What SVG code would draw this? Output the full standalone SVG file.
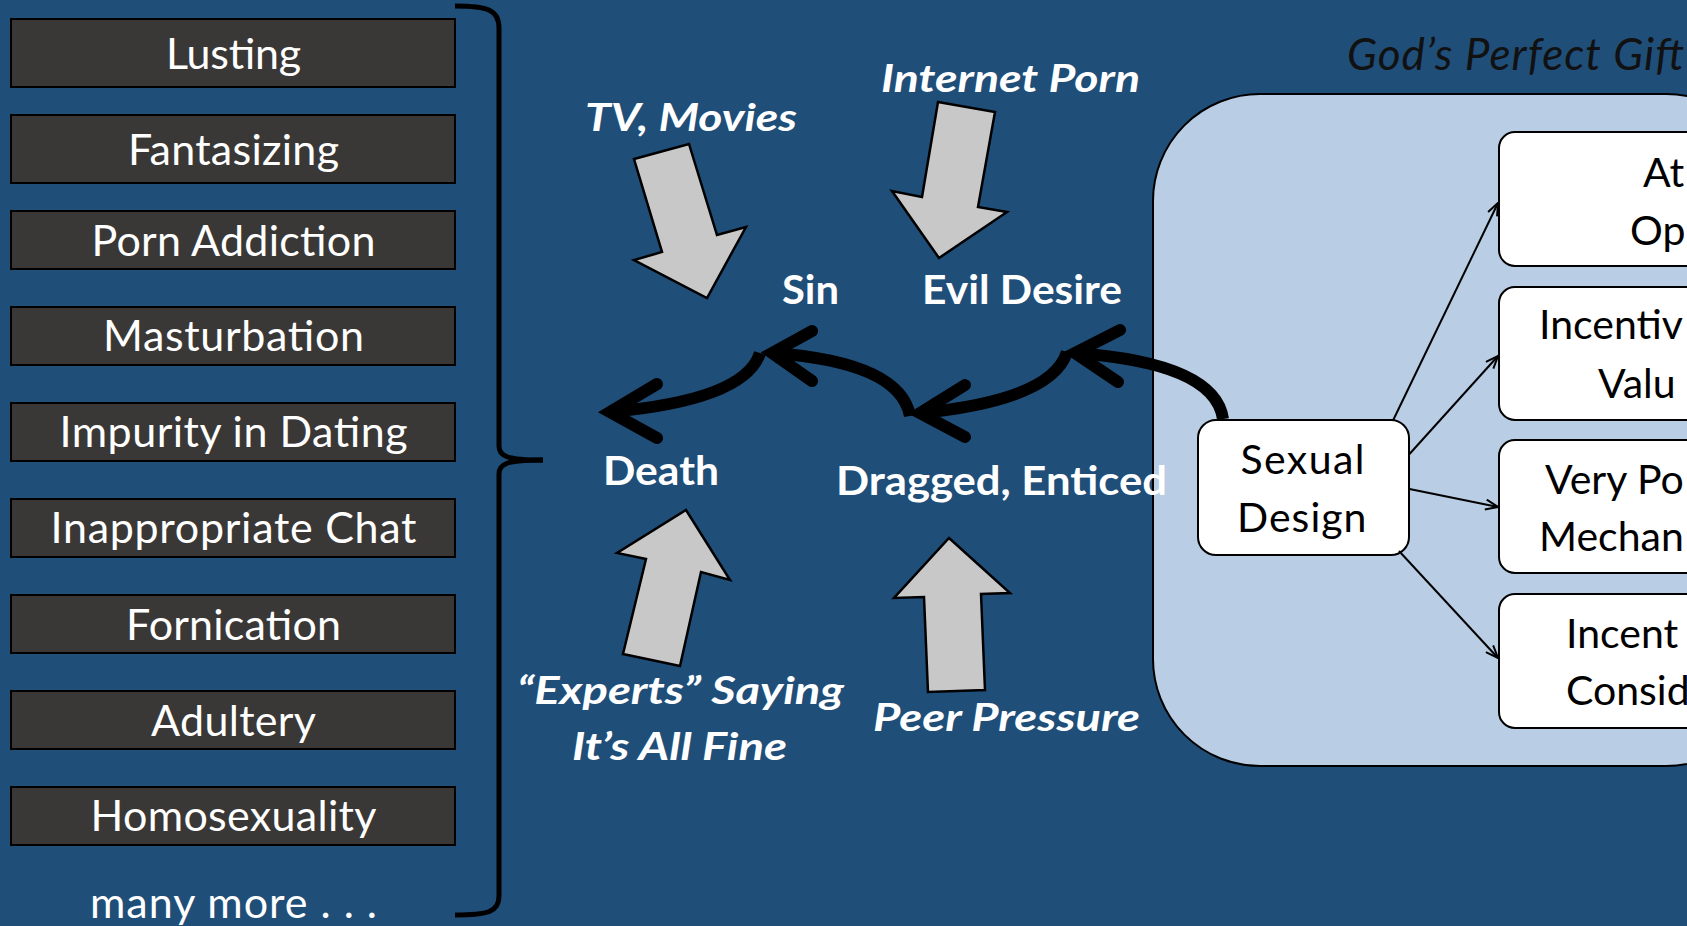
<svg xmlns="http://www.w3.org/2000/svg" width="1687" height="926" viewBox="0 0 1687 926">
<defs>
<style>
.bg{fill:#1F4E79}
.item rect{fill:#3A3836;stroke:#000;stroke-width:2}
.wt{fill:#fff;font-family:"Lato","Liberation Sans",sans-serif;font-size:43px}
.lbl{fill:#fff;font-family:"Lato","Liberation Sans",sans-serif;font-size:41px;font-weight:bold}
.inf{fill:#fff;font-family:"Lato","Liberation Sans",sans-serif;font-size:38px;font-weight:bold;font-style:italic}
.blk{fill:#000;font-family:"Lato","Liberation Sans",sans-serif;font-size:41px}
.blk-arrow{fill:#C8C8C8;stroke:#000;stroke-width:2.5;stroke-linejoin:miter}
.flow{fill:none;stroke:#000;stroke-width:12}
.head{fill:none;stroke:#000;stroke-width:12;stroke-linecap:round;stroke-linejoin:miter}
.thin{fill:none;stroke:#000;stroke-width:2;marker-end:url(#open)}
.wbox{fill:#fff;stroke:#000;stroke-width:2}
</style>
<marker id="open" viewBox="0 0 14 12" refX="13.5" refY="6" markerWidth="14" markerHeight="12" markerUnits="userSpaceOnUse" orient="auto">
<path d="M1,1 L13.5,6 L1,11" fill="none" stroke="#000" stroke-width="2"/>
</marker>
</defs>
<rect class="bg" x="0" y="0" width="1687" height="926"/>

<g id="list">
<g id="n-lusting" class="item"><rect x="11" y="19" width="444" height="68"/><text class="wt" x="233.5" y="69" text-anchor="middle" textLength="135">Lusting</text></g>
<g id="n-fantasizing" class="item"><rect x="11" y="115" width="444" height="68"/><text class="wt" x="233.5" y="165" text-anchor="middle" textLength="211">Fantasizing</text></g>
<g id="n-porn" class="item"><rect x="11" y="211" width="444" height="58"/><text class="wt" x="233.5" y="256" text-anchor="middle" textLength="284">Porn Addiction</text></g>
<g id="n-masturbation" class="item"><rect x="11" y="307" width="444" height="58"/><text class="wt" x="233.5" y="351" text-anchor="middle" textLength="261">Masturbation</text></g>
<g id="n-impurity" class="item"><rect x="11" y="403" width="444" height="58"/><text class="wt" x="233.5" y="447" text-anchor="middle" textLength="348">Impurity in Dating</text></g>
<g id="n-chat" class="item"><rect x="11" y="499" width="444" height="58"/><text class="wt" x="233.5" y="543" text-anchor="middle" textLength="366">Inappropriate Chat</text></g>
<g id="n-fornication" class="item"><rect x="11" y="595" width="444" height="58"/><text class="wt" x="233.5" y="640" text-anchor="middle" textLength="215">Fornication</text></g>
<g id="n-adultery" class="item"><rect x="11" y="691" width="444" height="58"/><text class="wt" x="233.5" y="736" text-anchor="middle" textLength="165">Adultery</text></g>
<g id="n-homosexuality" class="item"><rect x="11" y="787" width="444" height="58"/><text class="wt" x="233.5" y="831" text-anchor="middle" textLength="286">Homosexuality</text></g>
<g id="n-more"><text class="wt" x="233.5" y="918" text-anchor="middle" textLength="287">many more . . .</text></g>
</g>

<g id="brace" fill="none" stroke="#000" stroke-width="5">
<path d="M455,6 C488,6 499,10 499,28 L499,446 C499,456 506,460 543,460"/>
<path d="M543,460 C506,460 499,464 499,474 L499,896 C499,912 488,915 455,915"/>
</g>

<g id="influences">
<g id="n-tv"><polygon class="blk-arrow" points="634,159 689,144 717,235 746,227 707,298 634,260 662,252"/><text class="inf" x="585" y="131" textLength="212" lengthAdjust="spacingAndGlyphs">TV, Movies</text></g>
<g id="n-internet"><polygon class="blk-arrow" points="938,102 995,112 978,207 1007,212 939,258 892,191 922,197"/><text class="inf" x="881" y="92" textLength="259" lengthAdjust="spacingAndGlyphs">Internet Porn</text></g>
<g id="n-experts"><polygon class="blk-arrow" points="686,510 730,580 701,572 680,666 623,654 646,559 617,553"/><text class="inf" x="517" y="704" textLength="327" lengthAdjust="spacingAndGlyphs">“Experts” Saying</text><text class="inf" x="572" y="760" textLength="215" lengthAdjust="spacingAndGlyphs">It’s All Fine</text></g>
<g id="n-peer"><polygon class="blk-arrow" points="949,538 1010,593 981,594 985,690 928,692 924,597 894,598"/><text class="inf" x="873" y="731" textLength="267" lengthAdjust="spacingAndGlyphs">Peer Pressure</text></g>
</g>

<g id="n-panel">
<rect x="1153" y="94" width="620" height="672" rx="107" ry="107" fill="#B9CDE5" stroke="#000" stroke-width="2"/>
<text x="1347" y="70" fill="#111" font-family="Lato,'Liberation Sans',sans-serif" font-size="44" font-style="italic" textLength="337">God’s Perfect Gift</text>
</g>

<g id="stages">
<g id="n-sin"><text class="lbl" x="782" y="304" textLength="57" lengthAdjust="spacingAndGlyphs">Sin</text></g>
<g id="n-evil"><text class="lbl" x="922" y="304" textLength="200" lengthAdjust="spacingAndGlyphs">Evil Desire</text></g>
<g id="n-death"><text class="lbl" x="603" y="485" textLength="116" lengthAdjust="spacingAndGlyphs">Death</text></g>
</g>

<g id="n-sexual"><rect class="wbox" x="1198" y="420" width="211" height="135" rx="18" ry="18"/><text class="blk" x="1240.5" y="474" textLength="124">Sexual</text><text class="blk" x="1237" y="532" textLength="129.5">Design</text></g>

<g id="n-box1"><rect class="wbox" x="1499" y="132" width="260" height="134" rx="16" ry="16"/><text class="blk" x="1643" y="187">At</text><text class="blk" x="1630" y="245">Op</text></g>
<g id="n-box2"><rect class="wbox" x="1499" y="287" width="260" height="133" rx="16" ry="16"/><text class="blk" x="1539" y="339">Incentiv</text><text class="blk" x="1598" y="398">Valu</text></g>
<g id="n-box3"><rect class="wbox" x="1499" y="440" width="260" height="133" rx="16" ry="16"/><text class="blk" x="1545" y="494">Very Po</text><text class="blk" x="1539" y="551">Mechan</text></g>
<g id="n-box4"><rect class="wbox" x="1499" y="594" width="260" height="134" rx="16" ry="16"/><text class="blk" x="1566" y="648">Incent</text><text class="blk" x="1566" y="705">Consid</text></g>

<g id="connectors">
<path class="flow" d="M1223,419 Q1215,363 1075,353"/>
<polyline class="head" points="1120,330 1075,353 1118,382"/>
<path class="flow" d="M1067,352 Q1052,400 920,413"/>
<polyline class="head" points="965,385 920,413 965,437"/>
<path class="flow" d="M910,416 Q900,362 772,353"/>
<polyline class="head" points="812,331 772,353 812,381"/>
<path class="flow" d="M760,353 Q745,400 610,412"/>
<polyline class="head" points="657,384 610,412 657,438"/>
<line class="thin" x1="1393" y1="420.5" x2="1498" y2="203"/>
<line class="thin" x1="1409.5" y1="454" x2="1498" y2="356"/>
<line class="thin" x1="1409.5" y1="489" x2="1498" y2="507"/>
<line class="thin" x1="1399" y1="551" x2="1498" y2="658"/>
</g>

<g id="n-dragged"><text class="lbl" x="836" y="495" textLength="331" lengthAdjust="spacingAndGlyphs">Dragged, Enticed</text></g>
</svg>
